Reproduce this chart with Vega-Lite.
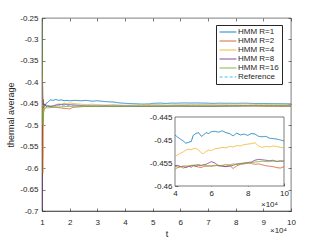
{
"$schema":"https://vega.github.io/schema/vega-lite/v6.json",
"width":249,"height":193,
"autosize":{"type":"none"},
"padding":{"left":42,"top":18,"right":30,"bottom":30},
"background":"white",
"config":{
 "font":"Liberation Sans",
 "view":{"stroke":"#262626","strokeWidth":0.6},
 "axis":{"grid":false,"domainColor":"#262626","domainWidth":0.6,"tickColor":"#262626","tickWidth":0.6,"tickSize":-3,"labelColor":"#262626","labelFontSize":8,"labelFont":"Liberation Sans","titleFont":"Liberation Sans","titleFontWeight":"normal","titleColor":"#262626","titleFontSize":9,"labelPadding":5,"labelOverlap":false,"labelFlush":false,"labelBound":false},
 "legend":{"title":null,"orient":"none","legendX":174,"legendY":7,"symbolType":"M-2.4,0L2.4,0","symbolSize":49,"symbolOffset":5,"symbolStrokeWidth":1,"labelFontSize":8,"labelFont":"Liberation Sans","labelColor":"#262626","strokeColor":"#262626","fillColor":"white","padding":3,"rowPadding":1,"labelOffset":6}
},
"datasets":{"runs":[
{"series":"HMM R=1","t":1.0,"value":-0.45},{"series":"HMM R=1","t":1.03,"value":-0.44},{"series":"HMM R=1","t":1.045,"value":-0.49},{"series":"HMM R=1","t":1.06,"value":-0.46},{"series":"HMM R=1","t":1.08,"value":-0.452},{"series":"HMM R=1","t":1.1,"value":-0.455},{"series":"HMM R=1","t":1.15,"value":-0.449},{"series":"HMM R=1","t":1.2,"value":-0.447},{"series":"HMM R=1","t":1.3,"value":-0.441},{"series":"HMM R=1","t":1.4,"value":-0.442},{"series":"HMM R=1","t":1.5,"value":-0.44},{"series":"HMM R=1","t":1.6,"value":-0.442},{"series":"HMM R=1","t":1.7,"value":-0.441},{"series":"HMM R=1","t":1.8,"value":-0.443},{"series":"HMM R=1","t":1.9,"value":-0.442},{"series":"HMM R=1","t":2.0,"value":-0.443},{"series":"HMM R=1","t":2.2,"value":-0.442},{"series":"HMM R=1","t":2.4,"value":-0.443},{"series":"HMM R=1","t":2.6,"value":-0.442},{"series":"HMM R=1","t":2.8,"value":-0.444},{"series":"HMM R=1","t":3.0,"value":-0.443},{"series":"HMM R=1","t":3.3,"value":-0.445},{"series":"HMM R=1","t":3.6,"value":-0.446},{"series":"HMM R=1","t":3.8,"value":-0.448},
{"series":"HMM R=1","t":4.0,"value":-0.4489},{"series":"HMM R=1","t":4.15,"value":-0.4494},{"series":"HMM R=1","t":4.3,"value":-0.4498},{"series":"HMM R=1","t":4.45,"value":-0.4502},{"series":"HMM R=1","t":4.6,"value":-0.4507},{"series":"HMM R=1","t":4.75,"value":-0.4505},{"series":"HMM R=1","t":4.9,"value":-0.4503},{"series":"HMM R=1","t":5.0,"value":-0.449},{"series":"HMM R=1","t":5.15,"value":-0.4486},{"series":"HMM R=1","t":5.3,"value":-0.4484},{"series":"HMM R=1","t":5.45,"value":-0.4492},{"series":"HMM R=1","t":5.55,"value":-0.449},{"series":"HMM R=1","t":5.7,"value":-0.4484},{"series":"HMM R=1","t":5.85,"value":-0.4486},{"series":"HMM R=1","t":6.0,"value":-0.4482},{"series":"HMM R=1","t":6.2,"value":-0.4481},{"series":"HMM R=1","t":6.4,"value":-0.4483},{"series":"HMM R=1","t":6.6,"value":-0.448},{"series":"HMM R=1","t":6.8,"value":-0.4484},{"series":"HMM R=1","t":7.0,"value":-0.4486},{"series":"HMM R=1","t":7.2,"value":-0.4491},{"series":"HMM R=1","t":7.4,"value":-0.4485},{"series":"HMM R=1","t":7.6,"value":-0.4489},{"series":"HMM R=1","t":7.8,"value":-0.4487},{"series":"HMM R=1","t":8.0,"value":-0.449},{"series":"HMM R=1","t":8.2,"value":-0.4486},{"series":"HMM R=1","t":8.4,"value":-0.4487},{"series":"HMM R=1","t":8.6,"value":-0.4492},{"series":"HMM R=1","t":8.8,"value":-0.4493},{"series":"HMM R=1","t":9.0,"value":-0.4492},{"series":"HMM R=1","t":9.2,"value":-0.4496},{"series":"HMM R=1","t":9.4,"value":-0.4497},{"series":"HMM R=1","t":9.6,"value":-0.4498},{"series":"HMM R=1","t":9.8,"value":-0.45},{"series":"HMM R=1","t":10.0,"value":-0.4502},
{"series":"HMM R=2","t":1.0,"value":-0.45},{"series":"HMM R=2","t":1.015,"value":-0.386},{"series":"HMM R=2","t":1.025,"value":-0.575},{"series":"HMM R=2","t":1.04,"value":-0.44},{"series":"HMM R=2","t":1.06,"value":-0.46},{"series":"HMM R=2","t":1.08,"value":-0.45},{"series":"HMM R=2","t":1.1,"value":-0.456},{"series":"HMM R=2","t":1.15,"value":-0.453},{"series":"HMM R=2","t":1.2,"value":-0.455},{"series":"HMM R=2","t":1.3,"value":-0.457},{"series":"HMM R=2","t":1.4,"value":-0.458},{"series":"HMM R=2","t":1.5,"value":-0.457},{"series":"HMM R=2","t":1.6,"value":-0.459},{"series":"HMM R=2","t":1.7,"value":-0.46},{"series":"HMM R=2","t":1.8,"value":-0.461},{"series":"HMM R=2","t":1.9,"value":-0.461},{"series":"HMM R=2","t":2.0,"value":-0.462},{"series":"HMM R=2","t":2.1,"value":-0.459},{"series":"HMM R=2","t":2.2,"value":-0.458},{"series":"HMM R=2","t":2.4,"value":-0.457},{"series":"HMM R=2","t":2.6,"value":-0.456},{"series":"HMM R=2","t":2.8,"value":-0.456},{"series":"HMM R=2","t":3.0,"value":-0.455},{"series":"HMM R=2","t":3.3,"value":-0.4555},{"series":"HMM R=2","t":3.6,"value":-0.455},{"series":"HMM R=2","t":3.8,"value":-0.4556},
{"series":"HMM R=2","t":4.0,"value":-0.4557},{"series":"HMM R=2","t":4.15,"value":-0.4559},{"series":"HMM R=2","t":4.3,"value":-0.4558},{"series":"HMM R=2","t":4.45,"value":-0.4561},{"series":"HMM R=2","t":4.6,"value":-0.4559},{"series":"HMM R=2","t":4.75,"value":-0.4557},{"series":"HMM R=2","t":4.9,"value":-0.4556},{"series":"HMM R=2","t":5.0,"value":-0.4555},{"series":"HMM R=2","t":5.15,"value":-0.4557},{"series":"HMM R=2","t":5.3,"value":-0.4559},{"series":"HMM R=2","t":5.45,"value":-0.456},{"series":"HMM R=2","t":5.55,"value":-0.4558},{"series":"HMM R=2","t":5.7,"value":-0.4557},{"series":"HMM R=2","t":5.85,"value":-0.4556},{"series":"HMM R=2","t":6.0,"value":-0.4557},{"series":"HMM R=2","t":6.2,"value":-0.4556},{"series":"HMM R=2","t":6.4,"value":-0.4555},{"series":"HMM R=2","t":6.6,"value":-0.4556},{"series":"HMM R=2","t":6.8,"value":-0.4557},{"series":"HMM R=2","t":7.0,"value":-0.4555},{"series":"HMM R=2","t":7.2,"value":-0.4562},{"series":"HMM R=2","t":7.4,"value":-0.4556},{"series":"HMM R=2","t":7.6,"value":-0.4553},{"series":"HMM R=2","t":7.8,"value":-0.4552},{"series":"HMM R=2","t":8.0,"value":-0.455},{"series":"HMM R=2","t":8.2,"value":-0.4551},{"series":"HMM R=2","t":8.4,"value":-0.4553},{"series":"HMM R=2","t":8.6,"value":-0.4552},{"series":"HMM R=2","t":8.8,"value":-0.4554},{"series":"HMM R=2","t":9.0,"value":-0.4556},{"series":"HMM R=2","t":9.2,"value":-0.4557},{"series":"HMM R=2","t":9.4,"value":-0.4558},{"series":"HMM R=2","t":9.6,"value":-0.456},{"series":"HMM R=2","t":9.8,"value":-0.4561},{"series":"HMM R=2","t":10.0,"value":-0.4558},
{"series":"HMM R=4","t":1.0,"value":-0.46},{"series":"HMM R=4","t":1.03,"value":-0.505},{"series":"HMM R=4","t":1.04,"value":-0.612},{"series":"HMM R=4","t":1.055,"value":-0.47},{"series":"HMM R=4","t":1.07,"value":-0.46},{"series":"HMM R=4","t":1.1,"value":-0.462},{"series":"HMM R=4","t":1.15,"value":-0.458},{"series":"HMM R=4","t":1.2,"value":-0.455},{"series":"HMM R=4","t":1.3,"value":-0.456},{"series":"HMM R=4","t":1.4,"value":-0.455},{"series":"HMM R=4","t":1.5,"value":-0.452},{"series":"HMM R=4","t":1.6,"value":-0.45},{"series":"HMM R=4","t":1.7,"value":-0.451},{"series":"HMM R=4","t":1.8,"value":-0.449},{"series":"HMM R=4","t":1.9,"value":-0.45},{"series":"HMM R=4","t":2.0,"value":-0.448},{"series":"HMM R=4","t":2.2,"value":-0.45},{"series":"HMM R=4","t":2.4,"value":-0.451},{"series":"HMM R=4","t":2.6,"value":-0.452},{"series":"HMM R=4","t":2.8,"value":-0.451},{"series":"HMM R=4","t":3.0,"value":-0.452},{"series":"HMM R=4","t":3.3,"value":-0.453},{"series":"HMM R=4","t":3.6,"value":-0.452},{"series":"HMM R=4","t":3.8,"value":-0.453},
{"series":"HMM R=4","t":4.0,"value":-0.4536},{"series":"HMM R=4","t":4.15,"value":-0.4532},{"series":"HMM R=4","t":4.3,"value":-0.4529},{"series":"HMM R=4","t":4.45,"value":-0.4526},{"series":"HMM R=4","t":4.6,"value":-0.4522},{"series":"HMM R=4","t":4.75,"value":-0.452},{"series":"HMM R=4","t":4.9,"value":-0.4521},{"series":"HMM R=4","t":5.0,"value":-0.4519},{"series":"HMM R=4","t":5.15,"value":-0.4518},{"series":"HMM R=4","t":5.3,"value":-0.4522},{"series":"HMM R=4","t":5.45,"value":-0.4528},{"series":"HMM R=4","t":5.55,"value":-0.453},{"series":"HMM R=4","t":5.7,"value":-0.4525},{"series":"HMM R=4","t":5.85,"value":-0.4522},{"series":"HMM R=4","t":6.0,"value":-0.4523},{"series":"HMM R=4","t":6.2,"value":-0.4519},{"series":"HMM R=4","t":6.4,"value":-0.4518},{"series":"HMM R=4","t":6.6,"value":-0.4516},{"series":"HMM R=4","t":6.8,"value":-0.4517},{"series":"HMM R=4","t":7.0,"value":-0.4514},{"series":"HMM R=4","t":7.2,"value":-0.4515},{"series":"HMM R=4","t":7.4,"value":-0.4512},{"series":"HMM R=4","t":7.6,"value":-0.4513},{"series":"HMM R=4","t":7.8,"value":-0.451},{"series":"HMM R=4","t":8.0,"value":-0.4509},{"series":"HMM R=4","t":8.2,"value":-0.4508},{"series":"HMM R=4","t":8.4,"value":-0.4506},{"series":"HMM R=4","t":8.6,"value":-0.4513},{"series":"HMM R=4","t":8.8,"value":-0.4516},{"series":"HMM R=4","t":9.0,"value":-0.4514},{"series":"HMM R=4","t":9.2,"value":-0.4515},{"series":"HMM R=4","t":9.4,"value":-0.4513},{"series":"HMM R=4","t":9.6,"value":-0.4514},{"series":"HMM R=4","t":9.8,"value":-0.4516},{"series":"HMM R=4","t":10.0,"value":-0.4517},
{"series":"HMM R=8","t":1.0,"value":-0.7},{"series":"HMM R=8","t":1.01,"value":-0.55},{"series":"HMM R=8","t":1.02,"value":-0.4},{"series":"HMM R=8","t":1.035,"value":-0.445},{"series":"HMM R=8","t":1.05,"value":-0.45},{"series":"HMM R=8","t":1.07,"value":-0.455},{"series":"HMM R=8","t":1.1,"value":-0.452},{"series":"HMM R=8","t":1.15,"value":-0.456},{"series":"HMM R=8","t":1.2,"value":-0.455},{"series":"HMM R=8","t":1.3,"value":-0.456},{"series":"HMM R=8","t":1.4,"value":-0.455},{"series":"HMM R=8","t":1.5,"value":-0.4535},{"series":"HMM R=8","t":1.6,"value":-0.452},{"series":"HMM R=8","t":1.7,"value":-0.452},{"series":"HMM R=8","t":1.8,"value":-0.451},{"series":"HMM R=8","t":1.9,"value":-0.452},{"series":"HMM R=8","t":2.0,"value":-0.452},{"series":"HMM R=8","t":2.2,"value":-0.453},{"series":"HMM R=8","t":2.4,"value":-0.454},{"series":"HMM R=8","t":2.6,"value":-0.455},{"series":"HMM R=8","t":2.8,"value":-0.455},{"series":"HMM R=8","t":3.0,"value":-0.456},{"series":"HMM R=8","t":3.3,"value":-0.455},{"series":"HMM R=8","t":3.6,"value":-0.456},{"series":"HMM R=8","t":3.8,"value":-0.4555},
{"series":"HMM R=8","t":4.0,"value":-0.4556},{"series":"HMM R=8","t":4.15,"value":-0.4555},{"series":"HMM R=8","t":4.3,"value":-0.4558},{"series":"HMM R=8","t":4.45,"value":-0.4557},{"series":"HMM R=8","t":4.6,"value":-0.456},{"series":"HMM R=8","t":4.75,"value":-0.4557},{"series":"HMM R=8","t":4.9,"value":-0.4559},{"series":"HMM R=8","t":5.0,"value":-0.4556},{"series":"HMM R=8","t":5.15,"value":-0.4557},{"series":"HMM R=8","t":5.3,"value":-0.4555},{"series":"HMM R=8","t":5.45,"value":-0.4556},{"series":"HMM R=8","t":5.55,"value":-0.4554},{"series":"HMM R=8","t":5.7,"value":-0.4553},{"series":"HMM R=8","t":5.85,"value":-0.455},{"series":"HMM R=8","t":6.0,"value":-0.4547},{"series":"HMM R=8","t":6.2,"value":-0.455},{"series":"HMM R=8","t":6.4,"value":-0.4556},{"series":"HMM R=8","t":6.6,"value":-0.4557},{"series":"HMM R=8","t":6.8,"value":-0.4558},{"series":"HMM R=8","t":7.0,"value":-0.4557},{"series":"HMM R=8","t":7.2,"value":-0.4555},{"series":"HMM R=8","t":7.4,"value":-0.4552},{"series":"HMM R=8","t":7.6,"value":-0.4551},{"series":"HMM R=8","t":7.8,"value":-0.455},{"series":"HMM R=8","t":8.0,"value":-0.4549},{"series":"HMM R=8","t":8.2,"value":-0.4548},{"series":"HMM R=8","t":8.4,"value":-0.4544},{"series":"HMM R=8","t":8.6,"value":-0.4542},{"series":"HMM R=8","t":8.8,"value":-0.4543},{"series":"HMM R=8","t":9.0,"value":-0.4544},{"series":"HMM R=8","t":9.2,"value":-0.4545},{"series":"HMM R=8","t":9.4,"value":-0.4544},{"series":"HMM R=8","t":9.6,"value":-0.4547},{"series":"HMM R=8","t":9.8,"value":-0.4546},{"series":"HMM R=8","t":10.0,"value":-0.4546},
{"series":"HMM R=16","t":1.0,"value":-0.25},{"series":"HMM R=16","t":1.01,"value":-0.4},{"series":"HMM R=16","t":1.02,"value":-0.48},{"series":"HMM R=16","t":1.04,"value":-0.5},{"series":"HMM R=16","t":1.06,"value":-0.47},{"series":"HMM R=16","t":1.08,"value":-0.465},{"series":"HMM R=16","t":1.1,"value":-0.46},{"series":"HMM R=16","t":1.15,"value":-0.459},{"series":"HMM R=16","t":1.2,"value":-0.4595},{"series":"HMM R=16","t":1.3,"value":-0.459},{"series":"HMM R=16","t":1.4,"value":-0.458},{"series":"HMM R=16","t":1.5,"value":-0.4585},{"series":"HMM R=16","t":1.6,"value":-0.458},{"series":"HMM R=16","t":1.7,"value":-0.457},{"series":"HMM R=16","t":1.8,"value":-0.457},{"series":"HMM R=16","t":1.9,"value":-0.456},{"series":"HMM R=16","t":2.0,"value":-0.456},{"series":"HMM R=16","t":2.2,"value":-0.4555},{"series":"HMM R=16","t":2.4,"value":-0.456},{"series":"HMM R=16","t":2.6,"value":-0.4565},{"series":"HMM R=16","t":2.8,"value":-0.456},{"series":"HMM R=16","t":3.0,"value":-0.4565},{"series":"HMM R=16","t":3.3,"value":-0.456},{"series":"HMM R=16","t":3.6,"value":-0.4565},{"series":"HMM R=16","t":3.8,"value":-0.4563},
{"series":"HMM R=16","t":4.0,"value":-0.4564},{"series":"HMM R=16","t":4.15,"value":-0.456},{"series":"HMM R=16","t":4.3,"value":-0.4558},{"series":"HMM R=16","t":4.45,"value":-0.4557},{"series":"HMM R=16","t":4.6,"value":-0.4556},{"series":"HMM R=16","t":4.75,"value":-0.4557},{"series":"HMM R=16","t":4.9,"value":-0.4555},{"series":"HMM R=16","t":5.0,"value":-0.4555},{"series":"HMM R=16","t":5.15,"value":-0.4554},{"series":"HMM R=16","t":5.3,"value":-0.4553},{"series":"HMM R=16","t":5.45,"value":-0.4555},{"series":"HMM R=16","t":5.55,"value":-0.4554},{"series":"HMM R=16","t":5.7,"value":-0.4556},{"series":"HMM R=16","t":5.85,"value":-0.4557},{"series":"HMM R=16","t":6.0,"value":-0.4556},{"series":"HMM R=16","t":6.2,"value":-0.4555},{"series":"HMM R=16","t":6.4,"value":-0.4556},{"series":"HMM R=16","t":6.6,"value":-0.4555},{"series":"HMM R=16","t":6.8,"value":-0.4553},{"series":"HMM R=16","t":7.0,"value":-0.4554},{"series":"HMM R=16","t":7.2,"value":-0.4552},{"series":"HMM R=16","t":7.4,"value":-0.4553},{"series":"HMM R=16","t":7.6,"value":-0.4552},{"series":"HMM R=16","t":7.8,"value":-0.4551},{"series":"HMM R=16","t":8.0,"value":-0.455},{"series":"HMM R=16","t":8.2,"value":-0.4549},{"series":"HMM R=16","t":8.4,"value":-0.4548},{"series":"HMM R=16","t":8.6,"value":-0.4547},{"series":"HMM R=16","t":8.8,"value":-0.4546},{"series":"HMM R=16","t":9.0,"value":-0.4547},{"series":"HMM R=16","t":9.2,"value":-0.4547},{"series":"HMM R=16","t":9.4,"value":-0.4546},{"series":"HMM R=16","t":9.6,"value":-0.4546},{"series":"HMM R=16","t":9.8,"value":-0.4545},{"series":"HMM R=16","t":10.0,"value":-0.4546},
{"series":"Reference","t":1.0,"value":-0.4546},{"series":"Reference","t":10.0,"value":-0.4546}
],
"notes":[{"label":"×10⁴"}],
"box":[{"name":"inset"}]
},
"data":{"name":"runs"},
"layer":[
 {
  "mark":{"type":"line","strokeWidth":0.8,"clip":true},
  "encoding":{
   "x":{"field":"t","type":"quantitative","scale":{"domain":[1,10],"nice":false,"zero":false},"axis":{"orient":"bottom","values":[1,2,3,4,5,6,7,8,9,10],"labelOverlap":false,"title":"t","titlePadding":3,"labelPadding":10}},
   "y":{"field":"value","type":"quantitative","scale":{"domain":[-0.7,-0.25],"nice":false,"zero":false},"axis":{"orient":"left","values":[-0.7,-0.65,-0.6,-0.55,-0.5,-0.45,-0.4,-0.35,-0.3,-0.25],"labelOverlap":false,"labelExpr":"toString(datum.value)","labelPadding":7,"title":"thermal average","titlePadding":4}},
   "color":{"field":"series","type":"nominal","scale":{"domain":["HMM R=1","HMM R=2","HMM R=4","HMM R=8","HMM R=16","Reference"],"range":["#0072BD","#D95319","#EDB120","#7E2F8E","#77AC30","#4DBEEE"]}},
   "strokeDash":{"field":"series","type":"nominal","scale":{"domain":["HMM R=1","HMM R=2","HMM R=4","HMM R=8","HMM R=16","Reference"],"range":[[1,0],[1,0],[1,0],[1,0],[1,0],[3,2]]}}
  }
 },
 {
  "mark":{"type":"point","opacity":0},
  "encoding":{
   "x":{"field":"t","type":"quantitative","scale":{"domain":[1,10],"nice":false,"zero":false},"axis":{"orient":"top","values":[1,2,3,4,5,6,7,8,9,10],"labels":false,"domain":false,"title":null}},
   "y":{"field":"value","type":"quantitative","scale":{"domain":[-0.7,-0.25],"nice":false,"zero":false},"axis":{"orient":"right","values":[-0.7,-0.65,-0.6,-0.55,-0.5,-0.45,-0.4,-0.35,-0.3,-0.25],"labels":false,"domain":false,"title":null}}
  }
 },
 {
  "data":{"name":"notes"},
  "mark":{"type":"text","align":"right","baseline":"middle","dx":-4,"dy":20,"fontSize":8,"color":"#262626"},
  "encoding":{"x":{"datum":10,"type":"quantitative","scale":{"domain":[1,10],"nice":false,"zero":false},"axis":null},"y":{"datum":-0.7,"type":"quantitative","scale":{"domain":[-0.7,-0.25],"nice":false,"zero":false},"axis":null},"text":{"field":"label"}}
 },
 {
  "layer":[
   {
    "data":{"name":"box"},
    "mark":{"type":"rect","fill":"white","stroke":"#262626","strokeWidth":0.6},
    "encoding":{
     "x":{"datum":4,"type":"quantitative","scale":{"domain":[4,10],"range":[133,242],"nice":false,"zero":false},"axis":{"orient":"bottom","offset":-25,"values":[4,6,8,10],"labelOverlap":false,"labelPadding":6,"title":null,"domain":false}},
     "x2":{"datum":10},
     "y":{"datum":-0.46,"type":"quantitative","scale":{"domain":[-0.46,-0.445],"range":[168,99],"nice":false,"zero":false},"axis":{"orient":"left","offset":-133,"values":[-0.46,-0.455,-0.45,-0.445],"labelOverlap":false,"labelPadding":6,"labelExpr":"toString(datum.value)","title":null,"domain":false}},
     "y2":{"datum":-0.445}
    }
   },
   {
    "transform":[{"filter":"datum.t >= 4"}],
    "mark":{"type":"line","strokeWidth":0.8},
    "encoding":{
     "x":{"field":"t","type":"quantitative"},
     "y":{"field":"value","type":"quantitative"},
     "color":{"field":"series","type":"nominal","scale":{"domain":["HMM R=1","HMM R=2","HMM R=4","HMM R=8","HMM R=16","Reference"],"range":["#0072BD","#D95319","#EDB120","#7E2F8E","#77AC30","#4DBEEE"]}},
     "strokeDash":{"field":"series","type":"nominal","scale":{"domain":["HMM R=1","HMM R=2","HMM R=4","HMM R=8","HMM R=16","Reference"],"range":[[1,0],[1,0],[1,0],[1,0],[1,0],[3,2]]}}
    }
   },
   {
    "data":{"name":"notes"},
    "mark":{"type":"text","align":"right","baseline":"middle","dx":-6,"dy":19,"fontSize":8,"color":"#262626"},
    "encoding":{"x":{"datum":10,"type":"quantitative"},"y":{"datum":-0.46,"type":"quantitative"},"text":{"field":"label"}}
   }
  ]
 }
],
"resolve":{"scale":{"x":"independent","y":"independent"}}
}
